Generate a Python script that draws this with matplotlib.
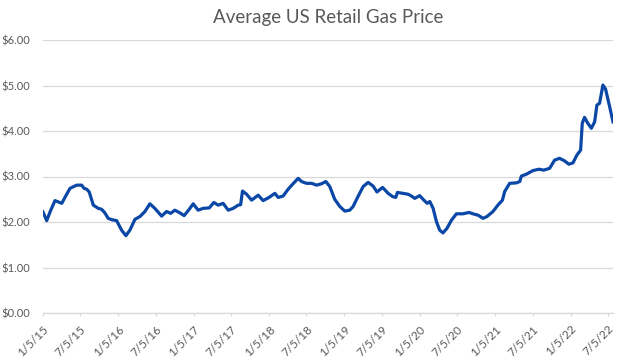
# Average US retail gas price, weekly-ish readings 2015-2022
import numpy             as np
import pandas            as pd
import matplotlib
matplotlib.use('Agg')
import matplotlib.pyplot as plt

# start date of the series and day offsets of each reading
startDate = '2015-01-05'
dayOffset = [0, 18, 34, 58, 91, 111, 131, 163, 187, 199, 212, 224, 244, 268, 284, 300,
             316, 334, 357, 381, 402, 421, 446, 470, 494, 518, 542, 575, 599, 619, 639,
             664, 684, 709, 728, 752, 776, 806, 828, 849, 873, 898, 922, 946, 958, 967,
             987, 1011, 1043, 1067, 1096, 1124, 1140, 1164, 1188, 1212, 1237, 1253, 1277,
             1302, 1326, 1350, 1371, 1390, 1414, 1439, 1463, 1487, 1503, 1527, 1552, 1576,
             1600, 1619, 1646, 1673, 1694, 1710, 1718, 1745, 1770, 1786, 1802, 1826, 1842,
             1862, 1875, 1891, 1907, 1923, 1939, 1958, 1980, 2004, 2036, 2065, 2084, 2109,
             2133, 2152, 2181, 2205, 2227, 2238, 2262, 2295, 2311, 2319, 2343, 2375, 2404,
             2427, 2456, 2480, 2504, 2529, 2549, 2569, 2588, 2606, 2614, 2625, 2641, 2658,
             2674, 2685, 2698, 2714, 2727, 2747, 2763]
gasPrice  = [2.22, 2.03, 2.22, 2.47, 2.41, 2.58, 2.74, 2.81, 2.81, 2.74, 2.72, 2.66, 2.37,
             2.30, 2.28, 2.20, 2.08, 2.05, 2.03, 1.82, 1.70, 1.82, 2.06, 2.12, 2.23, 2.40,
             2.30, 2.13, 2.23, 2.19, 2.26, 2.20, 2.14, 2.28, 2.40, 2.26, 2.30, 2.31, 2.43,
             2.37, 2.41, 2.26, 2.30, 2.37, 2.38, 2.68, 2.61, 2.48, 2.59, 2.47, 2.54, 2.63,
             2.54, 2.57, 2.72, 2.84, 2.96, 2.89, 2.85, 2.85, 2.81, 2.84, 2.89, 2.78, 2.50,
             2.34, 2.24, 2.26, 2.34, 2.56, 2.78, 2.87, 2.79, 2.66, 2.76, 2.63, 2.56, 2.54,
             2.65, 2.63, 2.61, 2.57, 2.52, 2.58, 2.50, 2.41, 2.45, 2.30, 2.01, 1.82, 1.76,
             1.86, 2.04, 2.18, 2.18, 2.21, 2.18, 2.15, 2.08, 2.12, 2.23, 2.37, 2.48, 2.67,
             2.85, 2.86, 2.89, 3.01, 3.05, 3.13, 3.16, 3.14, 3.18, 3.36, 3.40, 3.34, 3.27,
             3.30, 3.47, 3.58, 4.17, 4.30, 4.17, 4.06, 4.20, 4.57, 4.61, 5.01, 4.92, 4.53,
             4.20]

# axis ticks
xTickLabels = ['1/5/15', '7/5/15', '1/5/16', '7/5/16', '1/5/17', '7/5/17', '1/5/18', '7/5/18',
               '1/5/19', '7/5/19', '1/5/20', '7/5/20', '1/5/21', '7/5/21', '1/5/22', '7/5/22']
yTicks      = [0, 1, 2, 3, 4, 5, 6]

dates  = pd.Timestamp(startDate) + pd.to_timedelta(dayOffset, unit='D')
xTicks = pd.to_datetime(xTickLabels, format='%m/%d/%y')

plt.rcParams['font.family'] = ['Lato', 'DejaVu Sans']
grey = '#595959'

fig = plt.figure(figsize=(6.32, 3.62), dpi=100)
ax  = fig.add_axes([43/632, 49/362, 570/632, 273/362])

ax.plot(dates, gasPrice, color='#0a47a6', linewidth=2.3, solid_joinstyle='round')

ax.set_xlim(dates[0], dates[-1])
ax.set_ylim(0, 6)
ax.set_yticks(yTicks)
ax.set_yticklabels(['$%.2f' % v for v in yTicks], color=grey, fontsize=8)
ax.set_xticks(xTicks)
ax.set_xticklabels(xTickLabels, rotation=45, ha='right', rotation_mode='anchor',
                   color=grey, fontsize=8.5)

ax.grid(True, axis='y', color='#d9d9d9', linewidth=0.9)
ax.set_axisbelow(True)
for side in ['top', 'right', 'left']:
    ax.spines[side].set_visible(False)
ax.spines['bottom'].set_color('#d9d9d9')
ax.spines['bottom'].set_linewidth(0.9)
ax.tick_params(axis='y', length=0, pad=9)
ax.tick_params(axis='x', length=2.5, color='#d9d9d9', width=0.9, pad=5)

fig.text(328/632, 1 - 18/362, 'Average US Retail Gas Price', ha='center', va='center',
         fontsize=13.5, color=grey)

fig.savefig('out.png', dpi=100)
